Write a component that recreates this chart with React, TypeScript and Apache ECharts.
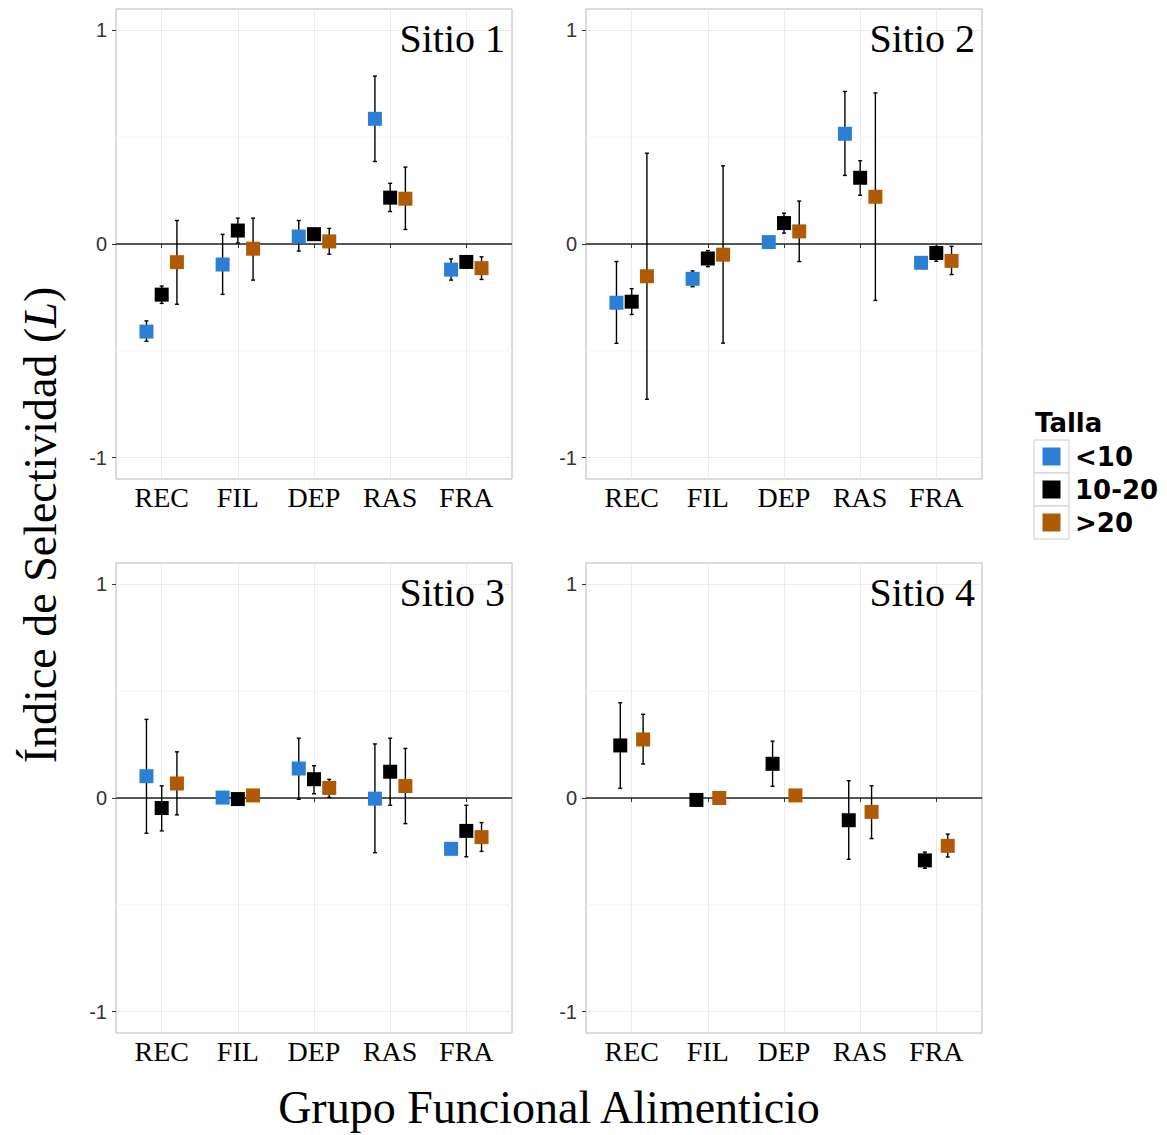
import React, { useEffect, useRef } from "react";
import * as echarts from "echarts";

const categories = ["REC", "FIL", "DEP", "RAS", "FRA"];
const groupNames = ["<10", "10-20", ">20"];
const groupColors = ["#2b80d6", "#000000", "#b05a06"];
const siteNames = ["Sitio 1", "Sitio 2", "Sitio 3", "Sitio 4"];
const yTickValues = [-1, 0, 1];
const yMinorValues = [-0.5, 0.5];
const xTickValues = [1, 2, 3, 4, 5];

// [mean, lower, upper] per category (REC, FIL, DEP, RAS, FRA); null = absent
const site1Small = [[-0.41, -0.455, -0.36], [-0.096, -0.236, 0.045], [0.035, -0.033, 0.11], [0.586, 0.386, 0.786], [-0.12, -0.169, -0.07]];
const site1Mid = [[-0.237, -0.278, -0.197], [0.063, 0.005, 0.121], [0.046, 0.035, 0.057], [0.217, 0.152, 0.284], [-0.084, -0.093, -0.075]];
const site1Large = [[-0.085, -0.282, 0.11], [-0.022, -0.169, 0.121], [0.012, -0.048, 0.073], [0.212, 0.068, 0.36], [-0.113, -0.166, -0.06]];

const site2Small = [[-0.275, -0.465, -0.082], [-0.163, -0.2, -0.126], [0.009, 0.0, 0.018], [0.516, 0.321, 0.714], [-0.088, -0.095, -0.08]];
const site2Mid = [[-0.27, -0.33, -0.209], [-0.068, -0.106, -0.031], [0.098, 0.051, 0.144], [0.31, 0.228, 0.39], [-0.042, -0.081, -0.011]];
const site2Large = [[-0.151, -0.727, 0.425], [-0.05, -0.464, 0.366], [0.059, -0.082, 0.201], [0.221, -0.264, 0.707], [-0.079, -0.143, -0.011]];

const site3Small = [[0.102, -0.165, 0.368], [0.002, -0.005, 0.01], [0.138, -0.006, 0.28], [-0.003, -0.256, 0.253], [-0.238, -0.245, -0.23]];
const site3Mid = [[-0.047, -0.154, 0.057], [-0.005, -0.012, 0.003], [0.088, 0.02, 0.151], [0.123, -0.034, 0.28], [-0.154, -0.275, -0.034]];
const site3Large = [[0.068, -0.079, 0.216], [0.012, 0.005, 0.02], [0.047, 0.003, 0.087], [0.056, -0.12, 0.232], [-0.183, -0.25, -0.115]];

const site4Small = [null, null, null, null, null];
const site4Mid = [[0.246, 0.045, 0.446], [-0.009, -0.015, -0.003], [0.16, 0.055, 0.266], [-0.104, -0.287, 0.081], [-0.292, -0.329, -0.253]];
const site4Large = [[0.274, 0.159, 0.392], [0.0, -0.005, 0.005], [0.012, 0.005, 0.02], [-0.065, -0.19, 0.057], [-0.224, -0.276, -0.169]];

const siteData = [
  [site1Small, site1Mid, site1Large],
  [site2Small, site2Mid, site2Large],
  [site3Small, site3Mid, site3Large],
  [site4Small, site4Mid, site4Large],
];

const SERIF = "'Liberation Serif', 'Times New Roman', serif";
const SANS = "'Liberation Sans', Arial, sans-serif";
const DODGE_WIDTH = 0.6;

const gridBoxes = [
  { left: 116, top: 9 },
  { left: 586, top: 9 },
  { left: 116, top: 563 },
  { left: 586, top: 563 },
];
const GRID_W = 396;
const GRID_H = 470;

export default function App() {
  const ref = useRef<HTMLDivElement>(null);
  useEffect(() => {
    document.body.style.margin = "0";
    if (!ref.current) return;
    const chart = echarts.init(ref.current, null, { renderer: "svg" });

    const grid: any[] = [];
    const xAxis: any[] = [];
    const yAxis: any[] = [];
    const errSeries: any[] = [];
    const ptSeries: any[] = [];
    const refSeries: any[] = [];
    const graphic: any[] = [];

    siteData.forEach((groups, s) => {
      const gb = gridBoxes[s];
      grid.push({
        left: gb.left,
        top: gb.top,
        width: GRID_W,
        height: GRID_H,
        show: true,
        borderColor: "#b8b8b8",
        borderWidth: 1,
        backgroundColor: "#ffffff",
        containLabel: false,
      });
      xAxis.push({
        type: "value",
        gridIndex: s,
        min: 0.4,
        max: 5.6,
        axisLine: { show: false },
        axisTick: { show: true, length: 4, customValues: xTickValues, lineStyle: { color: "#333", width: 1 } },
        axisLabel: {
          customValues: xTickValues,
          formatter: (v: number) => categories[Math.round(v) - 1] || "",
          fontFamily: SERIF,
          fontSize: 28,
          color: "#000",
          margin: 4,
        },
        splitLine: { show: true, lineStyle: { color: "#ebebeb", width: 1 } },
      });
      yAxis.push({
        type: "value",
        gridIndex: s,
        min: -1.1,
        max: 1.1,
        axisLine: { show: false },
        axisTick: { show: true, length: 4, customValues: yTickValues, lineStyle: { color: "#333", width: 1 } },
        axisLabel: {
          customValues: yTickValues,
          fontFamily: SANS,
          fontSize: 20,
          color: "#333",
          margin: 9,
        },
        splitLine: { show: true, lineStyle: { color: "#ebebeb", width: 1 } },
      });

      // reference lines: minor gridlines and zero line
      const refData = [
        ...yMinorValues.map((v) => [v, 0]),
        [0, 1],
      ];
      refSeries.push({
        type: "custom",
        xAxisIndex: s,
        yAxisIndex: s,
        silent: true,
        z: 1,
        data: refData,
        encode: { y: 0 },
        renderItem: (params: any, api: any) => {
          const val = api.value(0);
          const kind = api.value(1);
          const cs = params.coordSys;
          const y = api.coord([1, val])[1];
          return {
            type: "line",
            shape: { x1: cs.x, y1: y, x2: cs.x + cs.width, y2: y },
            style: kind === 1 ? { stroke: "#222", lineWidth: 1.4 } : { stroke: "#f4f4f4", lineWidth: 1 },
          };
        },
      });

      // count groups present per category for dodging
      const present = categories.map((_, c) => groups.filter((g) => g[c] != null).length);
      const rank = categories.map(() => 0);
      groups.forEach((gArr, g) => {
        const pts: any[] = [];
        const errs: any[] = [];
        gArr.forEach((d, c) => {
          if (d == null) return;
          const n = present[c];
          const i = rank[c]++;
          const x = c + 1 + (i - (n - 1) / 2) * (DODGE_WIDTH / n);
          pts.push([x, d[0]]);
          errs.push([x, d[1], d[2]]);
        });
        errSeries.push({
          type: "custom",
          name: groupNames[g],
          xAxisIndex: s,
          yAxisIndex: s,
          z: 3,
          silent: true,
          data: errs,
          encode: { x: 0, y: [1, 2] },
          renderItem: (params: any, api: any) => {
            const x = api.value(0);
            const p1 = api.coord([x, api.value(1)]);
            const p2 = api.coord([x, api.value(2)]);
            const cap = 2;
            const st = { stroke: "#000", lineWidth: 1.4 };
            return {
              type: "group",
              children: [
                { type: "line", shape: { x1: p1[0], y1: p1[1], x2: p2[0], y2: p2[1] }, style: st },
                { type: "line", shape: { x1: p1[0] - cap, y1: p1[1], x2: p1[0] + cap, y2: p1[1] }, style: st },
                { type: "line", shape: { x1: p2[0] - cap, y1: p2[1], x2: p2[0] + cap, y2: p2[1] }, style: st },
              ],
            };
          },
        });
        ptSeries.push({
          type: "scatter",
          name: groupNames[g],
          xAxisIndex: s,
          yAxisIndex: s,
          z: 4,
          symbol: "rect",
          symbolSize: 14,
          itemStyle: { color: groupColors[g], opacity: 1 },
          data: pts,
        });
      });

      graphic.push({
        type: "text",
        x: gb.left + GRID_W - 7,
        y: gb.top + 29,
        style: {
          text: siteNames[s],
          font: `40px ${SERIF}`,
          fill: "#000",
          textAlign: "right",
          textVerticalAlign: "middle",
        },
        z: 10,
      });
    });

    // axis titles
    graphic.push({
      type: "text",
      x: 549,
      y: 1107,
      style: {
        text: "Grupo Funcional Alimenticio",
        font: `46px ${SERIF}`,
        fill: "#000",
        textAlign: "center",
        textVerticalAlign: "middle",
      },
    });
    graphic.push({
      type: "text",
      x: 40,
      y: 525,
      rotation: Math.PI / 2,
      style: {
        text: "Índice de Selectividad ({it|L})",
        fontFamily: SERIF,
        fontSize: 46,
        fill: "#000",
        align: "center",
        verticalAlign: "middle",
        rich: {
          it: { fontFamily: SERIF, fontSize: 46, fontStyle: "italic", fill: "#000" },
        },
      },
    });

    // legend
    graphic.push({
      type: "text",
      x: 1035,
      y: 423,
      style: {
        text: "Talla",
        font: `bold 26px 'DejaVu Sans', sans-serif`,
        fill: "#000",
        textAlign: "left",
        textVerticalAlign: "middle",
      },
    });
    groupNames.forEach((name, g) => {
      const top = 440 + g * 33;
      graphic.push({
        type: "rect",
        shape: { x: 1034, y: top, width: 35, height: 33 },
        style: { fill: "#ffffff", stroke: "#cccccc", lineWidth: 1 },
      });
      graphic.push({
        type: "rect",
        shape: { x: 1042.5, y: top + 7.5, width: 18, height: 18 },
        style: { fill: groupColors[g] },
      });
      graphic.push({
        type: "text",
        x: 1075,
        y: top + 16.5,
        style: {
          text: name,
          font: `bold 26px 'DejaVu Sans', sans-serif`,
          fill: "#000",
          textAlign: "left",
          textVerticalAlign: "middle",
        },
      });
    });

    chart.setOption({
      animation: false,
      backgroundColor: "#ffffff",
      grid,
      xAxis,
      yAxis,
      series: [...refSeries, ...errSeries, ...ptSeries],
      graphic,
    });
    return () => chart.dispose();
  }, []);
  return <div ref={ref} style={{ width: 1167, height: 1135 }} />;
}
